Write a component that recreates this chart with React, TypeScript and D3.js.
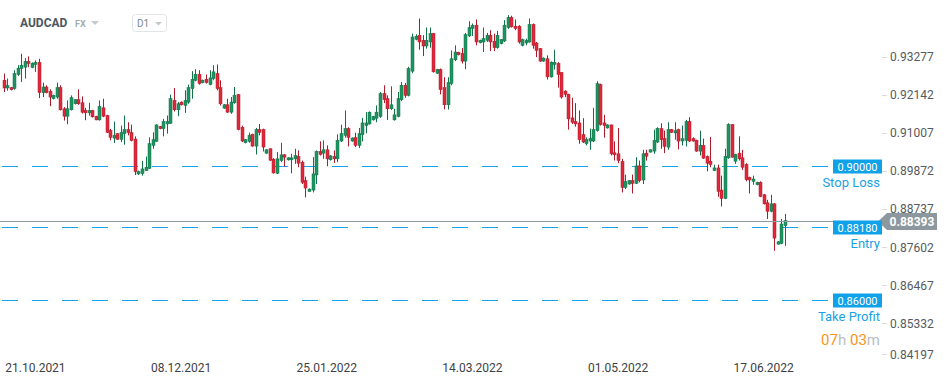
import React, { useEffect, useRef } from 'react';
import * as d3 from 'd3';

const W = 949;
const H = 385;

// daily AUDCAD candles
const opens = [
  0.9257, 0.9234, 0.9235, 0.9232, 0.9274, 0.9292, 0.9296, 0.9313, 0.9295, 0.9304,
  0.9310, 0.9220, 0.9237, 0.9224, 0.9202, 0.9207, 0.9235, 0.9172, 0.9150, 0.9169,
  0.9187, 0.9199, 0.9190, 0.9167, 0.9160, 0.9167, 0.9149, 0.9139, 0.9175, 0.9152,
  0.9107, 0.9085, 0.9098, 0.9081, 0.9098, 0.9110, 0.9101, 0.9082, 0.8978, 0.8979,
  0.8988, 0.8995, 0.9063, 0.9075, 0.9119, 0.9113, 0.9127, 0.9129, 0.9197, 0.9169,
  0.9192, 0.9182, 0.9192, 0.9232, 0.9257, 0.9275, 0.9250, 0.9260, 0.9244, 0.9262,
  0.9277, 0.9235, 0.9174, 0.9184, 0.9162, 0.9190, 0.9214, 0.9117, 0.9071, 0.9075,
  0.9096, 0.9061, 0.9110, 0.9110, 0.9040, 0.9053, 0.9022, 0.8980, 0.9018, 0.9035,
  0.9020, 0.9020, 0.9023, 0.9030, 0.9013, 0.8958, 0.8926, 0.8930, 0.8975, 0.9045,
  0.9040, 0.9050, 0.9020, 0.9030, 0.9023, 0.9076, 0.9093, 0.9113, 0.9076, 0.9086,
  0.9063, 0.9095, 0.9122, 0.9127, 0.9139, 0.9144, 0.9149, 0.9217, 0.9202, 0.9172,
  0.9139, 0.9149, 0.9199, 0.9242, 0.9212, 0.9284, 0.9379, 0.9391, 0.9376, 0.9359,
  0.9371, 0.9396, 0.9278, 0.9289, 0.9235, 0.9184, 0.9247, 0.9318, 0.9340, 0.9336,
  0.9314, 0.9389, 0.9411, 0.9421, 0.9369, 0.9371, 0.9376, 0.9391, 0.9373, 0.9354,
  0.9366, 0.9374, 0.9414, 0.9444, 0.9418, 0.9418, 0.9361, 0.9368, 0.9371, 0.9423,
  0.9368, 0.9351, 0.9314, 0.9321, 0.9267, 0.9304, 0.9307, 0.9280, 0.9225, 0.9215,
  0.9145, 0.9134, 0.9130, 0.9095, 0.9068, 0.9076, 0.9076, 0.9107, 0.9244, 0.9130,
  0.9115, 0.9124, 0.9041, 0.9038, 0.9015, 0.8938, 0.8948, 0.8958, 0.8950, 0.9002,
  0.8960, 0.9040, 0.9043, 0.9046, 0.9073, 0.9113, 0.9083, 0.9058, 0.9110, 0.9100,
  0.9110, 0.9076, 0.9078, 0.9134, 0.9083, 0.9078, 0.9046, 0.9063, 0.9030, 0.9016,
  0.8988, 0.8996, 0.8930, 0.8905, 0.9026, 0.9125, 0.9016, 0.9040, 0.9026, 0.9006,
  0.8968, 0.8956, 0.8946, 0.8953, 0.8916, 0.8892, 0.8867, 0.8889, 0.8769, 0.8771,
  0.8824,
];
const highs = [
  0.9277, 0.9262, 0.9237, 0.9287, 0.9302, 0.9336, 0.9323, 0.9328, 0.9310, 0.9316,
  0.9321, 0.9250, 0.9242, 0.9230, 0.9214, 0.9250, 0.9242, 0.9177, 0.9197, 0.9212,
  0.9201, 0.9230, 0.9209, 0.9175, 0.9190, 0.9169, 0.9151, 0.9197, 0.9202, 0.9154,
  0.9112, 0.9134, 0.9099, 0.9122, 0.9152, 0.9132, 0.9125, 0.9090, 0.8988, 0.9017,
  0.9030, 0.9087, 0.9102, 0.9126, 0.9121, 0.9142, 0.9152, 0.9214, 0.9234, 0.9192,
  0.9194, 0.9227, 0.9244, 0.9284, 0.9290, 0.9287, 0.9259, 0.9274, 0.9287, 0.9302,
  0.9304, 0.9257, 0.9186, 0.9202, 0.9207, 0.9237, 0.9216, 0.9122, 0.9082, 0.9101,
  0.9098, 0.9115, 0.9127, 0.9113, 0.9052, 0.9054, 0.9025, 0.9043, 0.9071, 0.9037,
  0.9028, 0.9038, 0.9053, 0.9048, 0.9018, 0.8970, 0.8935, 0.9028, 0.9048, 0.9075,
  0.9078, 0.9063, 0.9034, 0.9048, 0.9096, 0.9125, 0.9167, 0.9117, 0.9087, 0.9101,
  0.9115, 0.9145, 0.9162, 0.9164, 0.9151, 0.9182, 0.9222, 0.9242, 0.9212, 0.9239,
  0.9172, 0.9222, 0.9252, 0.9249, 0.9297, 0.9396, 0.9394, 0.9441, 0.9391, 0.9414,
  0.9414, 0.9398, 0.9291, 0.9292, 0.9266, 0.9266, 0.9346, 0.9361, 0.9342, 0.9353,
  0.9398, 0.9433, 0.9426, 0.9438, 0.9378, 0.9414, 0.9398, 0.9406, 0.9396, 0.9404,
  0.9380, 0.9436, 0.9451, 0.9449, 0.9438, 0.9421, 0.9381, 0.9381, 0.9441, 0.9426,
  0.9371, 0.9353, 0.9325, 0.9331, 0.9313, 0.9348, 0.9311, 0.9281, 0.9227, 0.9217,
  0.9205, 0.9189, 0.9167, 0.9144, 0.9087, 0.9113, 0.9175, 0.9254, 0.9247, 0.9154,
  0.9126, 0.9125, 0.9075, 0.9115, 0.9023, 0.8976, 0.8960, 0.8976, 0.9028, 0.9018,
  0.9050, 0.9050, 0.9051, 0.9110, 0.9117, 0.9129, 0.9107, 0.9132, 0.9112, 0.9132,
  0.9113, 0.9122, 0.9139, 0.9147, 0.9087, 0.9080, 0.9107, 0.9083, 0.9033, 0.9088,
  0.9006, 0.9006, 0.8973, 0.9053, 0.9129, 0.9126, 0.9038, 0.9090, 0.9050, 0.9010,
  0.8970, 0.8973, 0.8955, 0.8956, 0.8918, 0.8901, 0.8916, 0.8891, 0.8778, 0.8844,
  0.8859,
];
const lows = [
  0.9222, 0.9226, 0.9227, 0.9229, 0.9270, 0.9252, 0.9262, 0.9296, 0.9293, 0.9282,
  0.9204, 0.9207, 0.9218, 0.9180, 0.9200, 0.9202, 0.9167, 0.9137, 0.9126, 0.9167,
  0.9185, 0.9184, 0.9158, 0.9138, 0.9152, 0.9146, 0.9138, 0.9137, 0.9147, 0.9100,
  0.9078, 0.9070, 0.9080, 0.9073, 0.9065, 0.9093, 0.9075, 0.8975, 0.8975, 0.8973,
  0.8988, 0.8993, 0.9053, 0.9074, 0.9111, 0.9090, 0.9098, 0.9127, 0.9164, 0.9150,
  0.9182, 0.9160, 0.9187, 0.9202, 0.9254, 0.9244, 0.9248, 0.9247, 0.9242, 0.9257,
  0.9227, 0.9182, 0.9172, 0.9160, 0.9157, 0.9187, 0.9108, 0.9073, 0.9069, 0.9071,
  0.9059, 0.9036, 0.9093, 0.9045, 0.9038, 0.9017, 0.8979, 0.8978, 0.9013, 0.9000,
  0.9018, 0.8980, 0.9008, 0.8998, 0.8948, 0.8908, 0.8925, 0.8923, 0.8948, 0.9033,
  0.9023, 0.9001, 0.9018, 0.9011, 0.9013, 0.9073, 0.9086, 0.9060, 0.9074, 0.9058,
  0.9055, 0.9075, 0.9099, 0.9125, 0.9137, 0.9132, 0.9145, 0.9189, 0.9139, 0.9169,
  0.9137, 0.9147, 0.9195, 0.9205, 0.9209, 0.9278, 0.9376, 0.9348, 0.9329, 0.9351,
  0.9354, 0.9280, 0.9276, 0.9215, 0.9170, 0.9170, 0.9242, 0.9314, 0.9331, 0.9307,
  0.9290, 0.9386, 0.9389, 0.9361, 0.9367, 0.9341, 0.9371, 0.9344, 0.9344, 0.9351,
  0.9364, 0.9371, 0.9410, 0.9414, 0.9406, 0.9366, 0.9358, 0.9361, 0.9369, 0.9351,
  0.9326, 0.9312, 0.9312, 0.9259, 0.9265, 0.9289, 0.9235, 0.9202, 0.9207, 0.9110,
  0.9127, 0.9119, 0.9068, 0.9070, 0.9063, 0.9050, 0.9073, 0.9104, 0.9122, 0.9086,
  0.9113, 0.9033, 0.9018, 0.9010, 0.8923, 0.8933, 0.8946, 0.8920, 0.8948, 0.8953,
  0.8948, 0.9018, 0.9042, 0.9038, 0.9070, 0.9053, 0.9040, 0.9050, 0.9100, 0.9080,
  0.9051, 0.9063, 0.9060, 0.9073, 0.9074, 0.9044, 0.9033, 0.9023, 0.8986, 0.8998,
  0.8987, 0.8910, 0.8881, 0.8903, 0.9023, 0.9027, 0.9008, 0.9018, 0.8990, 0.8956,
  0.8920, 0.8946, 0.8944, 0.8909, 0.8887, 0.8844, 0.8864, 0.8749, 0.8768, 0.8769,
  0.8764,
];
const closes = [
  0.9234, 0.9241, 0.9229, 0.9277, 0.9293, 0.9302, 0.9313, 0.9307, 0.9308, 0.9310,
  0.9220, 0.9237, 0.9220, 0.9207, 0.9212, 0.9235, 0.9169, 0.9150, 0.9172, 0.9205,
  0.9199, 0.9187, 0.9162, 0.9160, 0.9167, 0.9148, 0.9139, 0.9179, 0.9150, 0.9102,
  0.9087, 0.9093, 0.9081, 0.9101, 0.9110, 0.9101, 0.9078, 0.8985, 0.8985, 0.8993,
  0.8998, 0.9068, 0.9080, 0.9124, 0.9113, 0.9134, 0.9134, 0.9202, 0.9169, 0.9187,
  0.9184, 0.9197, 0.9235, 0.9260, 0.9275, 0.9247, 0.9257, 0.9250, 0.9264, 0.9282,
  0.9232, 0.9187, 0.9184, 0.9162, 0.9192, 0.9212, 0.9110, 0.9076, 0.9080, 0.9093,
  0.9061, 0.9110, 0.9102, 0.9058, 0.9050, 0.9019, 0.8981, 0.9023, 0.9035, 0.9028,
  0.9026, 0.9026, 0.9033, 0.9010, 0.8953, 0.8936, 0.8933, 0.8978, 0.9045, 0.9036,
  0.9050, 0.9023, 0.9032, 0.9023, 0.9078, 0.9098, 0.9113, 0.9087, 0.9085, 0.9063,
  0.9098, 0.9130, 0.9130, 0.9162, 0.9149, 0.9162, 0.9217, 0.9199, 0.9172, 0.9184,
  0.9154, 0.9202, 0.9242, 0.9212, 0.9292, 0.9386, 0.9388, 0.9371, 0.9359, 0.9376,
  0.9396, 0.9282, 0.9289, 0.9229, 0.9184, 0.9250, 0.9321, 0.9341, 0.9333, 0.9314,
  0.9393, 0.9414, 0.9421, 0.9371, 0.9376, 0.9381, 0.9391, 0.9371, 0.9354, 0.9391,
  0.9378, 0.9421, 0.9444, 0.9416, 0.9411, 0.9371, 0.9378, 0.9376, 0.9423, 0.9361,
  0.9346, 0.9314, 0.9323, 0.9267, 0.9311, 0.9310, 0.9274, 0.9207, 0.9215, 0.9142,
  0.9132, 0.9127, 0.9080, 0.9073, 0.9081, 0.9083, 0.9110, 0.9247, 0.9125, 0.9122,
  0.9124, 0.9038, 0.9035, 0.9018, 0.8938, 0.8955, 0.8958, 0.8950, 0.9002, 0.8958,
  0.9038, 0.9031, 0.9050, 0.9078, 0.9114, 0.9080, 0.9060, 0.9110, 0.9102, 0.9107,
  0.9076, 0.9083, 0.9134, 0.9076, 0.9076, 0.9046, 0.9063, 0.9025, 0.9010, 0.9006,
  0.8996, 0.8926, 0.8905, 0.9030, 0.9125, 0.9028, 0.9036, 0.9023, 0.8998, 0.8961,
  0.8960, 0.8963, 0.8953, 0.8911, 0.8889, 0.8867, 0.8889, 0.8787, 0.8776, 0.8829,
  0.8839,
];

const dateLabels = ['21.10.2021', '08.12.2021', '25.01.2022', '14.03.2022', '01.05.2022', '17.06.2022'];
const dateIndex = [9, 50, 91, 132, 173, 214];
const priceTicks = [0.93277, 0.92142, 0.91007, 0.89872, 0.88737, 0.87602, 0.86467, 0.85332, 0.84197];
const orderLevels = [0.9, 0.8818, 0.86];
const orderNames = ['Stop Loss', 'Entry', 'Take Profit'];
const lastPrice = 0.88393;

const FONT = 'Roboto, "Noto Sans", sans-serif';

const App = () => {
  const ref = useRef<SVGSVGElement>(null);

  useEffect(() => {
    const svg = d3.select(ref.current);
    svg.selectAll('*').remove();

    const x = d3.scaleLinear().domain([0, opens.length - 1]).range([3.5, 785]);
    const y = d3.scaleLinear().domain([0.8424, 0.9496]).range([360, 0]);
    const crisp = (v: number) => Math.round(v) + 0.5;

    svg.append('rect').attr('width', W).attr('height', H).attr('fill', '#fff');

    // header
    svg.append('text').attr('x', 20).attr('y', 27).text('AUDCAD')
      .attr('font-family', FONT).attr('font-size', 12).attr('font-weight', 700).attr('fill', '#4b5661');
    svg.append('text').attr('x', 75).attr('y', 27).text('FX')
      .attr('font-family', FONT).attr('font-size', 9).attr('font-weight', 700).attr('fill', '#a3acb3');
    svg.append('path').attr('d', 'M91,21 L99,21 L95,25 Z').attr('fill', '#c3c9ce');
    svg.append('rect').attr('x', 132.5).attr('y', 14.5).attr('width', 34).attr('height', 17).attr('rx', 3)
      .attr('fill', '#fff').attr('stroke', '#e2e5e8');
    svg.append('text').attr('x', 137).attr('y', 27).text('D1')
      .attr('font-family', FONT).attr('font-size', 10).attr('fill', '#7d8890');
    svg.append('path').attr('d', 'M155,22 L162,22 L158.5,25.5 Z').attr('fill', '#c3c9ce');

    // order level dashed lines
    svg.append('g').selectAll('line').data(orderLevels).enter().append('line')
      .attr('x1', 2).attr('x2', 828)
      .attr('y1', d => Math.floor(y(d)) + 0.5).attr('y2', d => Math.floor(y(d)) + 0.5)
      .attr('stroke', '#17a3ea').attr('stroke-width', 1).attr('stroke-dasharray', '16 14')
      .attr('shape-rendering', 'crispEdges');

    // candles
    const idx = d3.range(opens.length);
    const up = (i: number) => closes[i] >= opens[i];
    const g = svg.append('g');
    g.selectAll('line').data(idx).enter().append('line')
      .attr('x1', i => Math.round(x(i)) + 0.5).attr('x2', i => Math.round(x(i)) + 0.5)
      .attr('y1', i => y(highs[i])).attr('y2', i => y(lows[i]))
      .attr('stroke', i => (up(i) ? '#137049' : '#ad1b2b')).attr('stroke-width', 1);
    g.selectAll('rect').data(idx).enter().append('rect')
      .attr('x', i => Math.round(x(i)) - 1)
      .attr('width', 3)
      .attr('y', i => y(Math.max(opens[i], closes[i])))
      .attr('height', i => Math.max(1.5, Math.abs(y(opens[i]) - y(closes[i]))))
      .attr('fill', i => (up(i) ? '#1e9462' : '#e0283b'))
      .attr('stroke', i => (up(i) ? '#137049' : '#ad1b2b')).attr('stroke-width', 0.5);

    // last price line and tag
    const ly = crisp(y(lastPrice));
    svg.append('line').attr('x1', 0).attr('x2', 880).attr('y1', ly).attr('y2', ly)
      .attr('stroke', '#8e9ba1').attr('stroke-width', 1);
    svg.append('path')
      .attr('d', `M878,${ly} L887,${ly - 8.5} L937,${ly - 8.5} L937,${ly + 8.5} L887,${ly + 8.5} Z`)
      .attr('fill', '#8c989e');
    svg.append('text').attr('x', 912).attr('y', ly + 4.5).attr('text-anchor', 'middle').text(lastPrice.toFixed(5))
      .attr('font-family', FONT).attr('font-size', 12).attr('font-weight', 700).attr('fill', '#fff');

    // order level tags
    orderLevels.forEach((lv, k) => {
      const yy = Math.floor(y(lv)) + 0.5;
      svg.append('rect').attr('x', 833).attr('y', yy - 7).attr('width', 49).attr('height', 14).attr('fill', '#10a2e8');
      svg.append('text').attr('x', 857.5).attr('y', yy + 4).attr('text-anchor', 'middle').text(lv.toFixed(5))
        .attr('font-family', FONT).attr('font-size', 11).attr('fill', '#fff');
      svg.append('text').attr('x', 880).attr('y', yy + 20).attr('text-anchor', 'end').text(orderNames[k])
        .attr('font-family', FONT).attr('font-size', 13).attr('fill', '#1aa1e3');
    });

    // countdown
    const t = svg.append('text').attr('x', 880).attr('y', 345).attr('text-anchor', 'end')
      .attr('font-family', FONT).attr('font-size', 15);
    t.append('tspan').text('07').attr('fill', '#f7931e');
    t.append('tspan').text('h ').attr('fill', '#b9bec2');
    t.append('tspan').text('03').attr('fill', '#f7931e');
    t.append('tspan').text('m').attr('fill', '#b9bec2');

    // price axis
    priceTicks.forEach(p => {
      const yy = Math.min(y(p), 354);
      svg.append('line').attr('x1', 882).attr('x2', 887).attr('y1', crisp(yy)).attr('y2', crisp(yy))
        .attr('stroke', '#d8dcdf');
      svg.append('text').attr('x', 890).attr('y', yy + 4.5).text(p.toFixed(5))
        .attr('font-family', FONT).attr('font-size', 12).attr('fill', '#555b60');
    });

    // date axis
    dateLabels.forEach((d, k) => {
      svg.append('text').attr('x', x(dateIndex[k])).attr('y', 372).attr('text-anchor', 'middle').text(d)
        .attr('font-family', FONT).attr('font-size', 12).attr('fill', '#3c4247');
    });
  }, []);

  return (
    <div style={{ position: 'fixed', left: 0, top: 0 }}>
      <svg ref={ref} width={W} height={H} style={{ display: 'block' }} />
    </div>
  );
};

export default App;
